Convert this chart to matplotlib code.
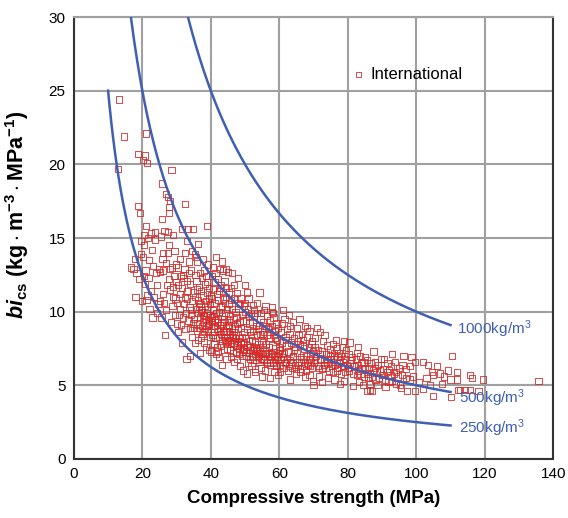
import numpy as np
import matplotlib
matplotlib.use("Agg")
import matplotlib.pyplot as plt

plt.rcParams['font.family'] = ['Liberation Sans', 'DejaVu Sans']
plt.rcParams['mathtext.fontset'] = 'custom'
plt.rcParams['mathtext.rm'] = 'Liberation Sans'
plt.rcParams['mathtext.it'] = 'Liberation Sans:italic'
plt.rcParams['mathtext.bf'] = 'Liberation Sans:bold'
plt.rcParams['mathtext.bfit'] = 'Liberation Sans:bold:italic'

# binder intensity curves: bi = binder / fc
binder = [250, 500, 1000]
curve_labels = ["250kg/m$^3$", "500kg/m$^3$", "1000kg/m$^3$"]
curve_x_end = 110
label_pos = [(112.5, 2.1), (112.5, 4.1), (112.0, 8.8)]

# international data set
pts = [
    # 10-20
    (13.2, 24.4), (14.6, 21.9), (13.0, 19.7), (16.6, 13.0), (17.4, 12.9), (18.3, 12.6),
    (18.8, 17.2), (19.3, 16.7), (18.8, 20.7), (19.5, 13.9), (17.8, 13.6), (19.0, 12.2),
    (18.0, 11.0), (19.6, 14.8), (19.8, 10.7),
    # 20-25
    (21.0, 22.1), (20.8, 20.6), (20.1, 20.3), (21.3, 20.1), (21.0, 15.8), (20.5, 15.2),
    (21.6, 15.0), (22.5, 15.3), (23.7, 14.9), (20.4, 14.5), (22.0, 13.5), (23.2, 13.1),
    (20.9, 12.8), (21.8, 12.3), (24.0, 12.6), (20.8, 11.9), (21.2, 10.8), (22.6, 11.4),
    (23.5, 11.0), (24.3, 11.8), (22.1, 10.2), (24.7, 10.5), (23.0, 9.6), (24.8, 12.9),
    (20.3, 13.7), (22.9, 14.2), (21.5, 11.1), (24.2, 9.9), (23.8, 15.4), (20.6, 12.4),
    # 25-30
    (28.5, 19.6), (25.8, 18.7), (26.8, 18.0), (27.6, 17.8), (27.8, 17.1), (28.1, 17.5),
    (25.7, 16.3), (27.8, 16.7), (27.6, 15.4), (26.5, 15.5), (29.0, 15.2), (25.4, 15.1),
    (27.8, 14.5), (26.0, 14.0), (27.6, 14.0), (28.6, 13.0), (29.8, 13.2), (26.1, 12.8),
    (25.2, 12.7), (28.0, 12.9), (29.2, 12.4), (25.1, 10.7), (28.1, 11.5), (29.0, 11.0),
    (26.6, 8.4), (27.3, 11.8), (28.8, 10.4), (29.5, 9.8), (26.0, 11.2), (27.0, 10.1),
    (29.9, 12.0), (28.4, 9.3), (26.9, 13.3), (25.6, 9.6), (29.4, 14.1), (27.9, 12.2),
    (26.3, 10.6), (28.9, 11.7), (29.7, 10.9), (25.9, 13.6),
    # 30-35
    (32.5, 17.3), (31.5, 15.6), (34.8, 15.6), (33.3, 15.6), (34.4, 14.1), (32.5, 14.0),
    (33.7, 13.4), (31.0, 13.6), (30.5, 13.0), (31.3, 12.4), (32.0, 12.3), (31.8, 12.5),
    (33.0, 12.1), (34.2, 12.8), (30.4, 11.8), (30.9, 11.2), (31.6, 11.6), (32.4, 11.0),
    (33.2, 11.4), (34.0, 11.9), (34.7, 11.3), (30.2, 10.6), (31.1, 10.2), (32.2, 10.5),
    (33.1, 10.9), (33.8, 10.3), (34.6, 10.7), (30.7, 9.8), (31.9, 9.6), (32.8, 9.9),
    (33.5, 9.4), (34.3, 9.8), (30.5, 8.6), (31.4, 9.1), (32.6, 8.8), (33.9, 8.9),
    (34.9, 9.2), (32.9, 6.8), (33.9, 7.0), (31.7, 7.9), (34.5, 8.3), (30.1, 9.2),
    (32.3, 12.9), (33.6, 12.6), (34.1, 10.1), (33.0, 14.8),
    # 35-40
    (35.7, 13.7), (36.0, 13.4), (35.4, 13.9), (36.8, 12.6), (37.5, 12.3), (38.0, 12.8),
    (39.0, 15.8), (39.2, 13.2), (35.8, 12.1), (36.5, 11.7), (37.2, 11.4), (38.3, 11.9),
    (39.4, 11.6), (35.3, 11.0), (36.2, 10.8), (37.0, 10.5), (37.8, 11.1), (38.6, 10.7),
    (39.5, 10.9), (35.6, 10.2), (36.4, 9.9), (37.3, 10.1), (38.1, 9.7), (38.9, 10.2),
    (39.7, 9.8), (35.2, 9.5), (36.1, 9.2), (36.9, 9.6), (37.7, 9.3), (38.5, 9.0),
    (39.3, 9.4), (35.9, 8.7), (36.7, 8.9), (37.6, 8.5), (38.4, 8.8), (39.2, 8.6),
    (39.9, 8.3), (36.8, 7.2), (35.4, 7.85), (37.9, 7.9), (38.7, 7.6), (39.6, 7.4),
    (36.3, 8.1), (37.1, 8.2), (35.5, 12.5), (38.8, 12.0), (39.8, 10.5), (36.6, 10.3),
    (37.4, 9.0), (38.2, 10.4), (35.1, 8.9), (39.1, 9.1), (37.9, 8.7), (36.0, 11.5),
    (38.9, 11.3), (36.5, 10.6), (37.1, 10.0), (37.8, 9.8), (38.3, 9.5), (38.8, 9.9),
    (39.4, 9.2), (39.9, 9.6), (38.5, 12.4), (36.3, 14.6), (37.7, 13.6),
    # 40-45
    (41.5, 13.7), (42.7, 12.9), (45.0, 12.7), (43.6, 12.8), (40.4, 12.4), (41.2, 12.0),
    (42.0, 12.2), (43.0, 11.8), (44.0, 12.1), (40.7, 11.5), (41.8, 11.2), (42.6, 11.6),
    (43.5, 11.3), (44.4, 11.0), (40.2, 10.9), (41.1, 10.6), (42.1, 10.8), (43.2, 10.4),
    (44.1, 10.6), (44.8, 10.2), (40.6, 10.1), (41.5, 9.9), (42.4, 10.0), (43.3, 9.7),
    (44.3, 9.9), (40.3, 9.6), (41.3, 9.4), (42.2, 9.5), (43.1, 9.2), (44.0, 9.3),
    (44.9, 9.0), (40.8, 9.0), (41.7, 8.8), (42.7, 8.9), (43.7, 8.6), (44.6, 8.7),
    (40.5, 8.4), (41.4, 8.2), (42.3, 8.3), (43.4, 8.0), (44.2, 8.1), (40.9, 7.8),
    (41.9, 7.6), (42.9, 7.7), (43.8, 7.4), (44.7, 7.5), (41.6, 7.1), (43.2, 6.4),
    (44.6, 6.8), (42.5, 6.9), (40.1, 7.3), (44.4, 7.9), (42.8, 10.3), (41.0, 8.6),
    (43.9, 9.5), (40.0, 11.1), (42.0, 7.3), (43.6, 10.9), (41.4, 12.6), (44.5, 11.6),
    (40.4, 9.3), (40.9, 9.7), (41.3, 9.0), (41.8, 9.3), (42.2, 8.7), (42.6, 9.1),
    (43.0, 8.5), (43.5, 8.9), (43.9, 8.3), (44.3, 8.6), (44.8, 8.2), (40.7, 13.0),
    (42.3, 11.4), (44.5, 12.9), (43.2, 13.4),
    # 45-50
    (47.6, 11.25), (50.0, 11.8), (46.0, 11.6), (45.4, 11.3), (46.8, 10.9), (47.9, 10.6),
    (48.8, 10.9), (49.6, 10.4), (45.3, 10.5), (46.3, 10.2), (47.2, 10.0), (48.1, 10.2),
    (49.1, 9.8), (45.7, 9.7), (46.6, 9.5), (47.5, 9.6), (48.4, 9.3), (49.4, 9.4),
    (45.2, 9.1), (46.1, 8.9), (47.0, 9.0), (47.9, 8.8), (48.9, 8.9), (49.8, 8.6),
    (45.6, 8.5), (46.5, 8.3), (47.4, 8.4), (48.3, 8.2), (49.2, 8.3), (45.1, 8.0),
    (46.0, 7.8), (46.9, 7.9), (47.8, 7.7), (48.7, 7.8), (49.7, 7.5), (45.5, 7.4),
    (46.4, 7.2), (47.3, 7.3), (48.2, 7.1), (49.1, 7.0), (48.5, 6.3), (46.7, 6.6),
    (49.5, 6.0), (47.6, 6.8), (45.9, 6.9), (50.5, 5.8), (48.0, 12.3), (46.2, 12.6),
    (49.9, 10.0), (45.8, 10.8), (47.7, 9.2), (49.3, 7.3), (46.8, 8.6), (48.6, 10.5),
    (45.4, 9.4), (45.2, 8.7), (45.7, 8.1), (46.1, 8.4), (46.6, 7.9), (47.0, 8.2),
    (47.5, 7.7), (47.9, 8.0), (48.4, 7.5), (48.8, 7.9), (49.3, 7.6), (49.7, 7.9),
    (46.7, 11.8),
    # 50-55
    (52.4, 10.45), (51.0, 10.9), (53.5, 10.6), (54.2, 11.3), (50.8, 10.2), (51.7, 9.9),
    (52.6, 9.7), (53.6, 9.9), (54.5, 9.5), (50.3, 9.4), (51.3, 9.2), (52.2, 9.3),
    (53.1, 9.0), (54.1, 9.1), (50.6, 8.8), (51.5, 8.6), (52.4, 8.7), (53.4, 8.4),
    (54.4, 8.5), (50.2, 8.2), (51.1, 8.0), (52.0, 8.1), (52.9, 7.9), (53.9, 7.8),
    (54.8, 8.0), (50.7, 7.6), (51.6, 7.4), (52.5, 7.5), (53.5, 7.3), (54.5, 7.2),
    (50.4, 7.0), (51.4, 6.8), (52.3, 6.9), (53.3, 6.7), (54.2, 6.6), (51.9, 6.3),
    (53.0, 6.1), (54.9, 5.6), (50.9, 6.5), (52.8, 5.9), (54.0, 7.0), (51.2, 9.7),
    (53.8, 8.8), (50.1, 10.6), (52.7, 10.1), (54.7, 9.9), (51.8, 8.4), (53.2, 7.6),
    (54.6, 6.2), (50.5, 11.3), (50.2, 7.3), (50.6, 7.7), (51.1, 7.2), (51.5, 7.6),
    (52.0, 7.0), (52.4, 7.4), (52.9, 7.1), (53.3, 7.5), (53.8, 6.9), (54.2, 7.3),
    (54.7, 6.8),
    # 55-60
    (57.8, 10.3), (57.8, 10.0), (55.5, 10.1), (56.4, 9.7), (57.3, 9.4), (58.3, 9.6),
    (59.2, 9.2), (55.2, 9.3), (56.1, 9.0), (57.0, 8.8), (57.9, 9.0), (58.8, 8.7),
    (59.7, 8.9), (55.6, 8.6), (56.5, 8.4), (57.4, 8.2), (58.4, 8.4), (59.3, 8.1),
    (55.3, 7.9), (56.2, 7.8), (57.1, 7.6), (58.0, 7.7), (58.9, 7.5), (59.8, 7.6),
    (55.7, 7.3), (56.6, 7.1), (57.5, 7.2), (58.5, 7.0), (59.4, 6.9), (55.4, 6.7),
    (56.3, 6.5), (57.3, 6.4), (58.2, 6.6), (59.1, 6.3), (57.3, 5.5), (58.6, 5.9),
    (55.9, 6.0), (59.6, 5.7), (56.8, 8.9), (58.7, 8.2), (55.1, 8.5), (57.6, 6.9),
    (59.9, 7.2), (56.0, 10.4), (58.1, 9.9), (55.1, 7.1), (55.6, 6.8), (56.0, 7.2),
    (56.5, 6.6), (56.9, 7.0), (57.4, 6.7), (57.9, 7.1), (58.3, 6.5), (58.8, 6.8),
    (59.2, 6.4), (59.7, 6.7),
    # 60-70
    (60.7, 9.2), (63.1, 9.0), (66.6, 8.5), (69.5, 8.0), (61.5, 9.5), (62.3, 8.8),
    (64.0, 9.3), (65.2, 8.9), (67.4, 9.0), (68.8, 8.7), (60.4, 8.6), (61.8, 8.3),
    (63.0, 8.5), (64.4, 8.2), (65.6, 8.4), (67.0, 8.1), (68.2, 8.3), (69.4, 7.8),
    (60.9, 7.9), (62.1, 7.7), (63.5, 7.9), (64.7, 7.6), (66.0, 7.8), (67.3, 7.5),
    (68.6, 7.6), (69.8, 7.3), (60.2, 7.4), (61.4, 7.2), (62.7, 7.3), (63.9, 7.0),
    (65.1, 7.2), (66.4, 6.9), (67.7, 7.0), (68.9, 6.8), (60.6, 6.8), (61.9, 6.6),
    (63.2, 6.7), (64.5, 6.4), (65.8, 6.6), (67.1, 6.3), (68.4, 6.4), (69.6, 6.2),
    (61.2, 6.2), (62.5, 6.0), (63.1, 5.4), (64.9, 5.8), (66.2, 5.9), (67.5, 5.6),
    (68.8, 5.7), (69.9, 5.3), (62.8, 9.8), (65.9, 9.5), (61.0, 10.1), (64.2, 7.4),
    (66.8, 7.7), (69.1, 7.1), (60.3, 5.9), (63.7, 6.2), (67.9, 6.0), (62.0, 8.1),
    (65.4, 8.0), (68.0, 8.9), (60.8, 7.1), (66.0, 6.1), (69.2, 6.6), (60.1, 6.4),
    (61.0, 6.9), (61.6, 6.5), (62.2, 6.8), (62.9, 6.3), (63.5, 6.6), (64.1, 6.9),
    (64.8, 6.1), (65.5, 6.4), (66.3, 6.6), (67.0, 6.8), (68.0, 6.5), (69.0, 6.3),
    # 70-80
    (71.9, 8.6), (74.8, 7.45), (77.3, 7.2), (70.5, 8.2), (72.8, 8.0), (73.9, 7.7),
    (75.6, 7.8), (76.8, 7.5), (78.4, 7.6), (79.5, 7.4), (70.3, 7.6), (71.4, 7.4),
    (72.5, 7.3), (73.6, 7.1), (74.7, 7.0), (75.9, 7.2), (77.0, 6.9), (78.1, 7.0),
    (79.2, 6.8), (70.8, 7.0), (71.9, 6.8), (73.0, 6.7), (74.1, 6.5), (75.2, 6.6),
    (76.3, 6.4), (77.5, 6.5), (78.6, 6.3), (79.7, 6.4), (70.2, 6.5), (71.3, 6.3),
    (72.4, 6.1), (73.5, 6.2), (74.6, 6.0), (75.7, 5.9), (76.9, 6.0), (78.0, 5.8),
    (79.1, 5.9), (70.0, 5.0), (72.4, 5.25), (77.8, 5.1), (71.7, 5.6), (74.3, 5.5),
    (76.1, 5.4), (79.0, 5.3), (73.2, 8.4), (76.5, 8.1), (78.8, 8.0), (70.9, 8.9),
    (75.0, 6.8), (77.7, 6.7), (70.5, 6.7), (71.5, 6.2), (72.0, 7.1), (73.0, 6.4),
    (74.0, 6.8), (75.5, 6.3), (76.0, 7.0), (77.0, 6.2), (78.5, 6.6),
    # 80-90
    (80.5, 7.9), (82.6, 7.2), (85.1, 6.9), (81.6, 4.95), (86.5, 4.7), (85.6, 4.6),
    (87.0, 4.6), (80.2, 7.1), (81.3, 6.9), (82.4, 6.8), (83.5, 7.0), (84.6, 6.6),
    (85.7, 6.7), (86.8, 6.5), (87.9, 6.6), (88.9, 6.4), (80.7, 6.5), (81.8, 6.3),
    (82.9, 6.4), (84.0, 6.2), (85.1, 6.1), (86.2, 6.2), (87.3, 6.0), (88.4, 5.9),
    (89.5, 6.0), (80.4, 6.0), (81.5, 5.8), (82.6, 5.7), (83.7, 5.8), (84.8, 5.6),
    (85.9, 5.5), (87.0, 5.6), (88.1, 5.4), (89.2, 5.5), (83.2, 5.2), (84.5, 5.0),
    (86.4, 5.1), (88.7, 5.0), (83.0, 7.6), (87.5, 7.3), (89.8, 6.8), (80.0, 6.2),
    (81.0, 6.7), (83.0, 6.0), (84.0, 6.5), (86.0, 5.8), (88.0, 6.2),
    # 90-100
    (92.9, 7.1), (90.5, 6.8), (91.6, 6.5), (92.7, 6.3), (93.8, 6.6), (94.9, 6.2),
    (96.0, 6.4), (97.1, 6.1), (98.2, 6.3), (99.7, 6.6), (90.3, 6.1), (91.4, 5.9),
    (92.5, 5.7), (93.6, 5.8), (94.7, 5.6), (95.8, 5.7), (96.9, 5.5), (98.0, 5.4),
    (99.1, 5.6), (90.8, 5.4), (91.9, 5.2), (93.0, 5.3), (94.1, 5.1), (95.2, 5.0),
    (97.2, 4.6), (99.7, 4.6), (96.3, 7.0), (98.6, 6.9), (91.0, 4.9), (95.5, 4.8),
    (90.0, 5.7), (92.0, 6.0), (94.0, 5.9),
    # 100+
    (101.9, 6.6), (103.5, 6.4), (106.0, 6.3), (104.6, 5.9), (105.0, 5.7), (107.0, 5.8),
    (108.0, 5.6), (110.0, 5.4), (111.9, 5.9), (111.9, 5.4), (115.8, 5.7), (116.3, 5.5),
    (119.6, 5.4), (112.1, 4.7), (114.3, 4.7), (115.8, 4.7), (118.2, 4.6), (105.0, 4.3),
    (110.1, 4.2), (102.0, 4.75), (110.4, 7.0), (112.8, 4.7), (100.8, 5.2), (103.0, 5.5),
    (104.0, 5.0), (107.5, 5.1), (109.2, 6.0), (135.7, 5.3),
]
strength = [p[0] for p in pts]
bics = [p[1] for p in pts]

blue = '#3f5fb5'
red = '#d42a2a'

fig = plt.figure(figsize=(5.68, 5.18), dpi=100)
ax = fig.add_axes([0.130, 0.114, 0.844, 0.853])

ax.scatter(strength, bics, marker='s', s=20, facecolors='none', edgecolors=red,
           linewidths=0.7, alpha=0.85, label='International', zorder=3)

for b, lab, (lx, ly) in zip(binder, curve_labels, label_pos):
    xs = np.linspace(b / 30.0 if b > 250 else 10, curve_x_end, 200)
    ax.plot(xs, b / xs, color=blue, lw=1.8, zorder=4)
    ax.text(lx, ly, lab, color=blue, fontsize=11, va='center', ha='left', zorder=5)

ax.set_xlim(0, 140)
ax.set_ylim(0, 30)
ax.set_xticks(range(0, 141, 20))
ax.set_yticks(range(0, 31, 5))
ax.grid(True, color='#a0a0a0', lw=1.5)
ax.set_axisbelow(True)
ax.tick_params(length=0, labelsize=11, pad=6)
for side in ['left', 'bottom', 'right']:
    ax.spines[side].set_color('#333333')
    ax.spines[side].set_linewidth(1.5)
ax.spines['top'].set_color('#a0a0a0')
ax.spines['top'].set_linewidth(1.5)

ax.set_xlabel('Compressive strength (MPa)', fontsize=13.5, fontweight='bold', labelpad=6)
ax.set_ylabel(r'$\mathbfit{bi}_{\mathbf{cs}}\ \mathbf{(kg\cdot m^{-3}\cdot MPa^{-1})}$',
              fontsize=15.5)
ax.yaxis.set_label_coords(-0.09, 0.553)

ax.legend(loc='upper left', bbox_to_anchor=(0.5635, 0.907), frameon=False, fontsize=12,
          handlelength=0.8, handletextpad=0.3, borderpad=0, markerscale=0.8)

fig.savefig('out.png', dpi=100)
